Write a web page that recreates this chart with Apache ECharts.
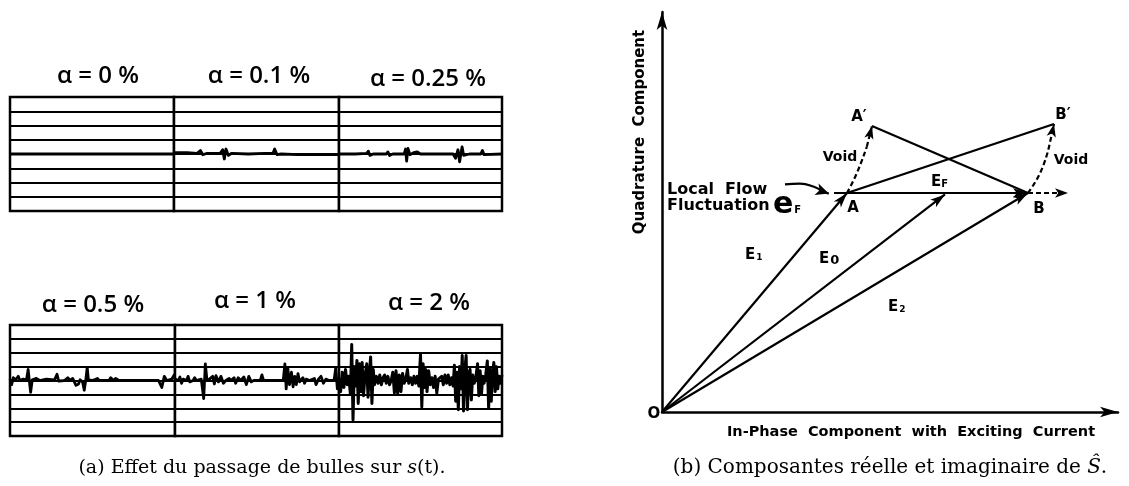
<!DOCTYPE html>
<html><head><meta charset="utf-8">
<script src="https://cdn.jsdelivr.net/npm/echarts@6.0.0/dist/echarts.min.js"></script>
<style>html,body{margin:0;padding:0;background:#fff}#c{width:1129px;height:486px}</style>
</head><body><div id="c"></div>
<script>
// ---------- Panel (a): titles and traces (t in 0..100, amplitude in grid rows) ----------
const panelTitles = ['α = 0 %', 'α = 0.1 %', 'α = 0.25 %', 'α = 0.5 %', 'α = 1 %', 'α = 2 %'];
const rowLevels = [-4, -3, -2, -1, 0, 1, 2, 3, 4];

const trace0 = [[0,0],[100,0]];
const trace01 = [[0,0.1],[8,0.1],[14,0.05],[16,0.25],[17.5,-0.05],[20,0.05],[28,0.05],[29.5,0.3],[30.5,-0.35],[31.5,0.35],[33,-0.1],[35,0.05],[45,0],[55,0.05],[60,0.05],[61,0.35],[62.5,-0.05],[65,0],[75,-0.05],[100,-0.05]];
const trace025 = [[0,0],[10,0],[17,0.05],[18,0.2],[19,-0.1],[21,0],[29,0],[30,0.15],[31,-0.1],[33,0],[40,0],[40.8,0.35],[41.5,-0.5],[42.3,0.4],[43.5,-0.05],[46,0.1],[48,0.15],[50,0],[70,0],[71.5,-0.3],[73,0.3],[74,-0.55],[75.5,0.5],[76.5,-0.1],[80,0],[87,0],[88,0.25],[89,-0.05],[100,0]];
const trace05 = [[0,0.1],[1,-0.3],[2,0.2],[3.5,0.05],[5,0.3],[6,0],[8,0.1],[10,0.05],[11,0.8],[11.8,-0.1],[12.5,-0.85],[13.5,0.05],[16,0.15],[18,0],[22,0.1],[27,0.05],[28.5,0.45],[29.5,-0.05],[33,0],[35,0.2],[36.5,0],[38,0.15],[40,-0.35],[41.5,-0.25],[42.5,0.05],[44,-0.1],[45,-0.7],[46,0.1],[46.8,0.95],[47.5,0.05],[50,0],[53,0.15],[54,0],[60,0],[61,0.2],[63,0],[64,0.15],[66,0],[90,0],[92,-0.5],[93.5,0.3],[95,0],[98,0.1],[99.5,0.4],[100,0.1]];
const trace1 = [[0,0.1],[2,0],[3,0.25],[4,-0.2],[5,0.1],[7,0],[8,0.3],[9,-0.1],[11,0],[12,0.2],[13,0],[16,0.1],[17.5,-1.3],[18.5,1.2],[19.5,0],[21,0.1],[23,0.3],[24,-0.25],[25,0.35],[26.5,-0.1],[28,0.3],[29.5,-0.2],[31,0],[33,0.15],[34,0],[36,0.2],[37,-0.2],[38.5,0.2],[40,0],[42,0.25],[43.5,-0.3],[45,0.3],[46.5,-0.1],[48,0],[52,0],[53,0.4],[54,0],[60,0],[66,0],[67,1.2],[67.8,-0.6],[68.8,0.9],[69.8,-0.3],[71,0.6],[72,-0.45],[73,0.3],[74,-0.3],[75,0.5],[76,-0.1],[78,0.2],[79,-0.2],[80,0.1],[82,0],[85,0.15],[86,-0.3],[87.5,0.1],[89,0.3],[90.5,-0.2],[92,0.1],[94,0],[97,0],[98,0.9],[99,-0.6],[100,0.2]];
const trace2 = [[0,0.2],[1,-0.8],[2,0.6],[3,-0.5],[4,0.8],[5,-0.3],[6,0.3],[7,-1.0],[7.8,2.6],[8.6,-2.85],[9.4,1.0],[10.2,-0.4],[11,1.45],[11.8,-1.65],[12.6,1.2],[13.4,-0.8],[14.2,1.3],[15,-1.1],[16,0.4],[17,1.2],[17.8,-1.2],[18.6,0.5],[19.4,1.7],[20.2,-1.65],[21,0.8],[21.8,-0.3],[23,0.3],[24,-0.2],[25,0.4],[26,-0.3],[27,0.2],[28,0.4],[29,-0.2],[30,0.3],[31,-0.3],[32,0],[33,0.6],[34,-0.9],[35,0.7],[36,-0.95],[37,0.4],[38,-0.8],[39,0.5],[40,-0.2],[41,0.1],[42,0.8],[42.8,-0.2],[44,0.2],[45,-0.3],[46,0.3],[47,-0.2],[48,0.3],[49,-0.4],[50,1.9],[50.8,-1.9],[51.6,1.2],[52.4,-0.5],[53.2,0.8],[54,-0.8],[55,0.7],[56,-0.3],[57,0.2],[58,-0.5],[59,0.3],[60,-0.9],[61,0.1],[63,0.3],[64,-0.3],[65,0.4],[66,-0.2],[67,0.4],[68,-0.3],[69,0.2],[70,-0.4],[70.8,1.1],[71.6,-1.5],[72.4,0.6],[73.2,-2.1],[74,1.0],[74.8,-0.6],[75.6,1.8],[76.4,-2.2],[77.2,0.8],[78,1.8],[78.8,-2.1],[79.6,0.5],[80.4,0.8],[81.2,-1.4],[82,0.4],[83,-0.2],[84,0.3],[85,1.2],[85.8,-1.1],[86.6,0.7],[87.4,-1.0],[88.2,0.3],[89,-0.2],[90,0.4],[91,1.4],[91.8,-2.0],[92.6,0.9],[93.4,-1.5],[94.2,0.5],[95,1.3],[95.8,-0.8],[96.6,1.0],[97.4,-0.6],[98.2,0.3],[99,-0.2],[100,0.4]];
const traces = [trace0, trace01, trace025, trace05, trace1, trace2];

// ---------- Panel (b): phasor diagram points (in-phase, quadrature) ----------
const ptO = [0, 0];
const ptA = [46.25, 54.75];
const ptB = [91.5, 54.75];
const ptA2 = [52.5, 71.5];     // A'
const ptB2 = [98, 72];         // B'
const ptE0 = [70.75, 54.4];    // tip of E0
const ptBext = [101.5, 54.75]; // dashed continuation beyond B
const ptFluct = [43, 54.75];   // start of local flow fluctuation segment
const voidCurveA = [[46.25,54.75],[48.7,59.7],[51.2,66.3]];
const voidCurveB = [[91.5,54.75],[94.5,59.7],[96.6,65.6]];
const localFlowCurve = [[30.75,56.9],[34.5,57.1],[38,56.3],[40,55.2]];
const localFlowTip = [41.7, 54.6];

// ---------- layout ----------
const gridsA = [
  {left:10, top:97, width:164, height:114},
  {left:174, top:97, width:165, height:114},
  {left:339, top:97, width:163, height:114},
  {left:10, top:325, width:165, height:111},
  {left:175, top:325, width:164, height:111},
  {left:339, top:325, width:163, height:111}
];
const titlePos = [[98,76],[259,76],[428,79],[93,305],[255,301],[429,303]];

const grid = [], xAxis = [], yAxis = [], series = [];
gridsA.forEach((g, i) => {
  grid.push(Object.assign({show:true, borderColor:'#000', borderWidth:2.5, backgroundColor:'#fff'}, g));
  xAxis.push({gridIndex:i, type:'value', min:0, max:100, show:true, axisLine:{show:false}, axisTick:{show:false}, axisLabel:{show:false}, splitLine:{show:false}});
  yAxis.push({gridIndex:i, type:'value', min:rowLevels[0], max:rowLevels[rowLevels.length-1], interval:1,
    axisLine:{show:false}, axisTick:{show:false}, axisLabel:{show:false},
    splitLine:{show:true, lineStyle:{color:'#000', width:1.8}}});
  series.push({type:'line', xAxisIndex:i, yAxisIndex:i, data:traces[i], showSymbol:false, silent:true,
    lineStyle:{color:'#000', width: i===5 ? 3 : 2.8, join:'round'}});
});

// panel (b) grid
const gb = gridsA.length;
grid.push({left:662, top:12, width:456, height:400, show:false});
xAxis.push({gridIndex:gb, type:'value', min:0, max:114,
  axisLine:{show:true, symbol:['none','arrow'], symbolSize:[8,18], lineStyle:{color:'#000', width:2.5}},
  axisTick:{show:false}, axisLabel:{show:false}, splitLine:{show:false}});
yAxis.push({gridIndex:gb, type:'value', min:0, max:100,
  axisLine:{show:true, symbol:['none','arrow'], symbolSize:[8,18], lineStyle:{color:'#000', width:2.5}},
  axisTick:{show:false}, axisLabel:{show:false}, splitLine:{show:false}});

const mlBase = {silent:true, animation:false, label:{show:false}, emphasis:{disabled:true}};
series.push({type:'line', xAxisIndex:gb, yAxisIndex:gb, data:[], silent:true,
  markLine:Object.assign({}, mlBase, {symbol:['none','arrow'], symbolSize:[7,15],
    lineStyle:{color:'#000', width:2.2, type:'solid'},
    data:[
      [{coord:ptO},{coord:ptA}],
      [{coord:ptO},{coord:ptE0}],
      [{coord:ptO},{coord:ptB}],
      [{coord:ptFluct},{coord:ptB}]
    ]})});
series.push({type:'line', xAxisIndex:gb, yAxisIndex:gb, data:[], silent:true,
  markLine:Object.assign({}, mlBase, {symbol:['none','none'],
    lineStyle:{color:'#000', width:2.2, type:'solid'},
    data:[
      [{coord:ptA2},{coord:ptB}],
      [{coord:ptA},{coord:ptB2}]
    ]})});
series.push({type:'line', xAxisIndex:gb, yAxisIndex:gb, data:[], silent:true,
  markLine:Object.assign({}, mlBase, {symbol:['none','arrow'], symbolSize:[7,13],
    lineStyle:{color:'#000', width:2.2, type:[5,3]},
    data:[
      [{coord:ptB},{coord:ptBext}],
      [{coord:voidCurveA[voidCurveA.length-1]},{coord:ptA2}],
      [{coord:voidCurveB[voidCurveB.length-1]},{coord:ptB2}]
    ]})});
[voidCurveA, voidCurveB].forEach(c => series.push({type:'line', xAxisIndex:gb, yAxisIndex:gb, data:c, smooth:true,
  showSymbol:false, silent:true, lineStyle:{color:'#000', width:2.2, type:[5,3]}}));
series.push({type:'line', xAxisIndex:gb, yAxisIndex:gb, data:localFlowCurve, smooth:true, showSymbol:false, silent:true,
  lineStyle:{color:'#000', width:2.2},
  markLine:Object.assign({}, mlBase, {symbol:['none','arrow'], symbolSize:[9,13],
    lineStyle:{color:'#000', width:2.2, type:'solid'},
    data:[[{coord:localFlowCurve[localFlowCurve.length-1]},{coord:localFlowTip}]]})});

// ---------- text ----------
const B = 'bold ';
const SANS = '"DejaVu Sans"';
function txt(x, y, text, font, extra) {
  return Object.assign({type:'text', x:x, y:y, silent:true,
    style:{text:text, font:font, fill:'#000', align:'center', verticalAlign:'middle'}}, extra || {});
}
function subText(x, y, main, s, fm, fs, pad) {
  return {type:'text', x:x, y:y, silent:true, style:{text:'{e|' + main + '}{f|' + s + '}', align:'left', verticalAlign:'middle',
    rich:{e:{font:B+fm+'px '+SANS, fill:'#000'}, f:{font:B+fs+'px '+SANS, fill:'#000', padding:pad}}}};
}
const graphic = [];
panelTitles.forEach((t, i) => graphic.push(txt(titlePos[i][0], titlePos[i][1], t, '600 24px "Open Sans"')));

graphic.push(txt(640, 132, 'Quadrature  Component', B + '15px ' + SANS, {rotation: Math.PI/2}));
graphic.push(txt(911, 432, 'In-Phase  Component  with  Exciting  Current', B + '14.5px ' + SANS));
graphic.push(txt(654, 414, 'O', B + '15px ' + SANS));
graphic.push({type:'text', x:667, y:190, silent:true, style:{text:'Local  Flow', font:B+'16px '+SANS, fill:'#000', align:'left', verticalAlign:'middle'}});
graphic.push({type:'text', x:667, y:206, silent:true, style:{text:'Fluctuation', font:B+'16px '+SANS, fill:'#000', align:'left', verticalAlign:'middle'}});
graphic.push(subText(773, 205, 'e', 'F', 30, 10, [10,0,0,1]));
graphic.push(txt(840, 157, 'Void', B + '14px ' + SANS));
graphic.push(txt(1071, 160, 'Void', B + '14px ' + SANS));
graphic.push(subText(931, 182, 'E', 'F', 15, 10, [5,0,0,0]));
graphic.push(txt(853, 208, 'A', B + '15px ' + SANS));
graphic.push(txt(1039, 209, 'B', B + '15px ' + SANS));
graphic.push(txt(859, 117, 'A′', B + '15px ' + SANS));
graphic.push(txt(1063, 115, 'B′', B + '15px ' + SANS));
graphic.push(subText(745, 255, 'E', '1', 15, 9, [6,0,0,1]));
graphic.push(subText(819, 259, 'E', '0', 15, 13, [3,0,0,1]));
graphic.push(subText(888, 307, 'E', '2', 15, 9, [6,0,0,1]));

const SERIF = '"DejaVu Serif"';
graphic.push({type:'text', x:262, y:468, silent:true, style:{text:'(a) Effet du passage de bulles sur {i|s}(t).', font:'19px '+SERIF, fill:'#000', align:'center', verticalAlign:'middle',
  rich:{i:{font:'italic 19px '+SERIF, fill:'#000'}}}});
graphic.push({type:'text', x:890, y:468, silent:true, style:{text:'(b) Composantes réelle et imaginaire de {i|Ŝ}.', font:'20px '+SERIF, fill:'#000', align:'center', verticalAlign:'middle',
  rich:{i:{font:'italic 20px '+SERIF, fill:'#000'}}}});

const chart = echarts.init(document.getElementById('c'), null, {renderer:'canvas'});
chart.setOption({backgroundColor:'#fff', animation:false, grid, xAxis, yAxis, series, graphic});
</script></body></html>
